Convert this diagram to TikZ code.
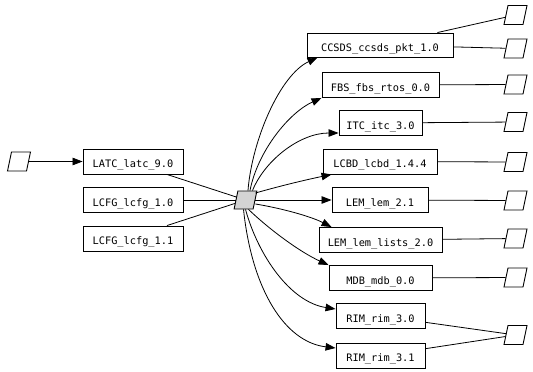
\documentclass[tikz,border=0pt]{standalone}
\usepackage{fontspec}
\setmonofont{DejaVu Sans Mono}
\usetikzlibrary{arrows.meta}
\begin{document}
\begin{tikzpicture}[x=1pt,y=-1pt,
  box/.style={draw, line width=0.9pt, minimum height=25pt, inner sep=0pt,
    font=\ttfamily\fontsize{10.3}{12}\selectfont, text height=12.5pt, text depth=0pt},
  para/.style={draw, line width=0.9pt, xslant=0.21, minimum width=19pt, minimum height=19pt, inner sep=0pt},
  hub/.style={para, fill=black!17, minimum height=18pt},
  link/.style={line width=0.8pt},
  arr/.style={line width=0.8pt, -{Triangle[length=10pt,width=7.5pt]}}
]
\useasboundingbox (0,0) rectangle (533,372);
% left side
\node[para] (pl) at (19,161.5) {};
\node[box, minimum width=100pt] (latc) at (133,161.5) {LATC\_latc\_9.0};
\node[box, minimum width=100pt] (lcfg0) at (133,200) {LCFG\_lcfg\_1.0};
\node[box, minimum width=100pt] (lcfg1) at (133,238.5) {LCFG\_lcfg\_1.1};
% hub
\node[hub] (c) at (245.5,200) {};
% right boxes
\node[box, minimum width=146pt, minimum height=24pt] (ccsds) at (380,45) {CCSDS\_ccsds\_pkt\_1.0};
\node[box, minimum width=117pt] (fbs) at (380.5,85) {FBS\_fbs\_rtos\_0.0};
\node[box, minimum width=83pt] (itc) at (380.5,123) {ITC\_itc\_3.0};
\node[box, minimum width=114pt] (lcbd) at (380,161.5) {LCBD\_lcbd\_1.4.4};
\node[box, minimum width=96pt] (lem) at (380,200) {LEM\_lem\_2.1};
\node[box, minimum width=123pt] (lemlists) at (380.5,240) {LEM\_lem\_lists\_2.0};
\node[box, minimum width=103pt] (mdb) at (380.5,278) {MDB\_mdb\_0.0};
\node[box, minimum width=89pt] (rim0) at (380.5,316) {RIM\_rim\_3.0};
\node[box, minimum width=89pt] (rim1) at (380.5,355.5) {RIM\_rim\_3.1};
% right parallelograms
\node[para] (p1) at (515.5,15) {};
\node[para] (p2) at (515.5,48.5) {};
\node[para] (p3) at (515.5,84.5) {};
\node[para] (p4) at (515.5,122) {};
\node[para] (p5) at (515.5,162) {};
\node[para] (p6) at (515.5,200.5) {};
\node[para] (p7) at (515.5,238.5) {};
\node[para] (p8) at (515.5,277.5) {};
\node[para] (p9) at (515.5,335) {};
% left edges
\draw[arr] (pl) -- (latc);
\draw[link] ([xshift=34pt]latc.south) -- (c);
\draw[link] (lcfg0) -- (c);
\draw[link] ([xshift=34pt]lcfg1.north) -- (c);
% hub to right boxes
\draw[arr] ([xshift=0.5pt]c.north) .. controls (252,140) and (280,75) .. ([xshift=11pt]ccsds.south west);
\draw[arr] ([xshift=2.5pt]c.north) .. controls (258,150) and (290,112) .. (fbs.south west);
\draw[arr] ([xshift=5pt]c.north) .. controls (265,160) and (300,133) .. ([yshift=-10pt]itc.west);
\draw[arr] ([yshift=7pt]c.east) .. controls (280,186) and (305,180) .. ([xshift=9pt]lcbd.south west);
\draw[arr] (c) -- (lem);
\draw[arr] ([yshift=-4pt]c.east) .. controls (280,208) and (310,216) .. ([xshift=13pt]lemlists.north west);
\draw[arr] ([xshift=5pt]c.south) .. controls (270,230) and (300,252) .. (mdb.north west);
\draw[arr] ([xshift=2pt]c.south) .. controls (258,255) and (290,302) .. ([yshift=7pt]rim0.west);
\draw[arr] ([xshift=0pt]c.south) .. controls (252,290) and (285,342) .. ([yshift=7.5pt]rim1.west);
% right boxes to parallelograms
\draw[link] ([xshift=-16pt]ccsds.north east) -- (p1);
\draw[link] (ccsds) -- (p2);
\draw[link] (fbs) -- (p3);
\draw[link] (itc) -- (p4);
\draw[link] (lcbd) -- (p5);
\draw[link] (lem) -- (p6);
\draw[link] (lemlists) -- (p7);
\draw[link] (mdb) -- (p8);
\draw[link] (rim0) -- (p9);
\draw[link] (rim1) -- (p9);
\end{tikzpicture}
\end{document}
